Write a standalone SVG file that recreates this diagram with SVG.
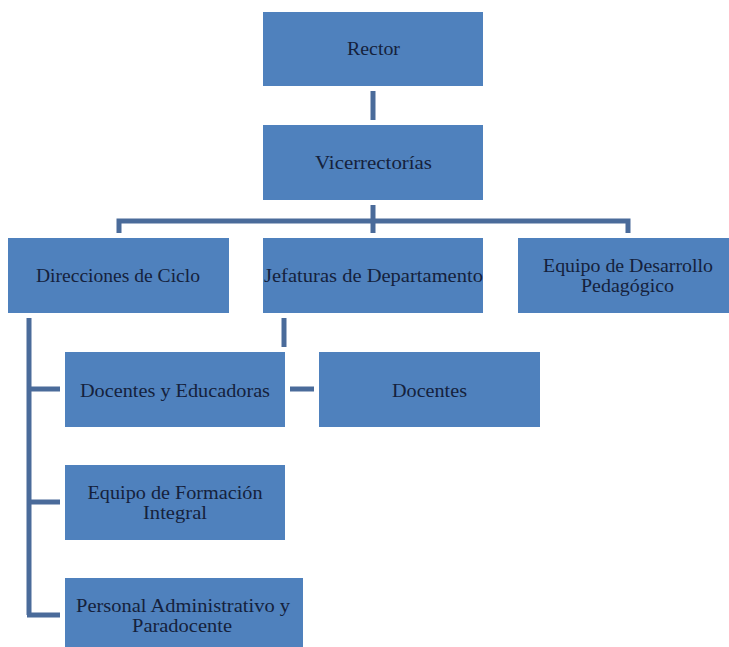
<svg xmlns="http://www.w3.org/2000/svg" width="729" height="647" viewBox="0 0 729 647">
<style>
.box{fill:#4f81bd;}
.lbl{font-family:"Liberation Serif","Times New Roman",serif;font-size:18px;fill:#15213c;text-anchor:middle;}
.con{stroke:#4a6b9a;stroke-width:5;fill:none;stroke-linecap:butt;}
</style>
<rect width="729" height="647" fill="#ffffff"/>
<g id="connectors">
<line class="con" x1="373" y1="91" x2="373" y2="120"/>
<line class="con" x1="373" y1="205" x2="373" y2="233"/>
<polyline class="con" points="119,233 119,221 628,221 628,233"/>
<line class="con" x1="29" y1="318" x2="29" y2="615"/>
<line class="con" x1="27" y1="389" x2="60" y2="389"/>
<line class="con" x1="27" y1="502" x2="60" y2="502"/>
<line class="con" x1="27" y1="615" x2="60" y2="615"/>
<line class="con" x1="284" y1="318" x2="284" y2="347"/>
<line class="con" x1="290" y1="389" x2="314" y2="389"/>
</g>
<g id="rector">
<rect class="box" x="263" y="12" width="220" height="74"/>
<text class="lbl" x="373.5" y="55" textLength="53" lengthAdjust="spacingAndGlyphs">Rector</text>
</g>
<g id="vicerrectorias">
<rect class="box" x="263" y="125" width="220" height="75"/>
<text class="lbl" x="373.5" y="168.5" textLength="117" lengthAdjust="spacingAndGlyphs">Vicerrectorías</text>
</g>
<g id="direcciones">
<rect class="box" x="8" y="238" width="221" height="75"/>
<text class="lbl" x="118" y="281.5" textLength="164" lengthAdjust="spacingAndGlyphs">Direcciones de Ciclo</text>
</g>
<g id="jefaturas">
<rect class="box" x="263" y="238" width="220" height="75"/>
<text class="lbl" x="373.5" y="281.5" textLength="219" lengthAdjust="spacingAndGlyphs">Jefaturas de Departamento</text>
</g>
<g id="equipo-desarrollo">
<rect class="box" x="518" y="238" width="211" height="75"/>
<text class="lbl" x="628" y="272" textLength="170" lengthAdjust="spacingAndGlyphs">Equipo de Desarrollo</text>
<text class="lbl" x="627.5" y="292" textLength="93" lengthAdjust="spacingAndGlyphs">Pedagógico</text>
</g>
<g id="docentes-educadoras">
<rect class="box" x="65" y="352" width="220" height="75"/>
<text class="lbl" x="175" y="396.5" textLength="190" lengthAdjust="spacingAndGlyphs">Docentes y Educadoras</text>
</g>
<g id="docentes">
<rect class="box" x="319" y="352" width="221" height="75"/>
<text class="lbl" x="429.5" y="396.5" textLength="75" lengthAdjust="spacingAndGlyphs">Docentes</text>
</g>
<g id="equipo-formacion">
<rect class="box" x="65" y="465" width="220" height="75"/>
<text class="lbl" x="175" y="499" textLength="175" lengthAdjust="spacingAndGlyphs">Equipo de Formación</text>
<text class="lbl" x="175" y="519" textLength="64" lengthAdjust="spacingAndGlyphs">Integral</text>
</g>
<g id="personal">
<rect class="box" x="65" y="578" width="238" height="75"/>
<text class="lbl" x="183" y="612" textLength="214" lengthAdjust="spacingAndGlyphs">Personal Administrativo y</text>
<text class="lbl" x="182" y="632" textLength="100" lengthAdjust="spacingAndGlyphs">Paradocente</text>
</g>
</svg>
